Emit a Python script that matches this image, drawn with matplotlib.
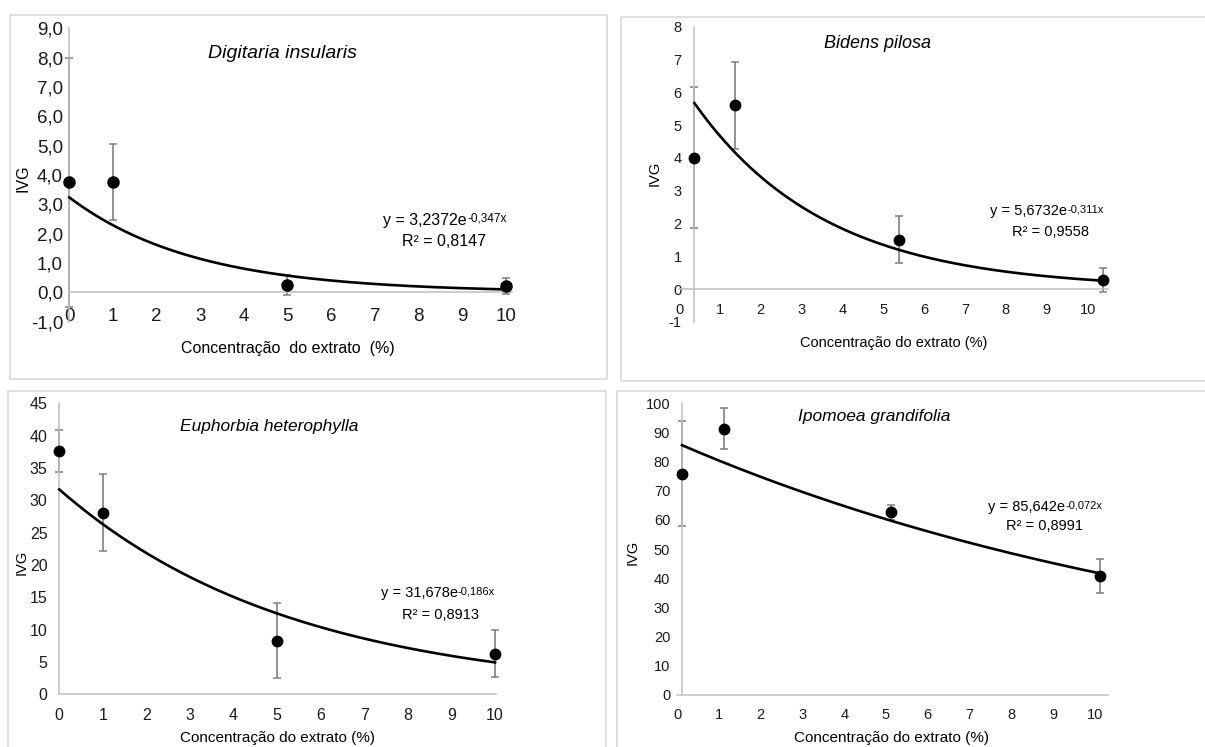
import numpy as np
import matplotlib
matplotlib.use("Agg")
import matplotlib.pyplot as plt
from matplotlib.patches import Rectangle
from matplotlib.text import Annotation

plt.rcParams['font.family'] = ['Liberation Sans', 'DejaVu Sans']

# concentrations of the extract (%)
conc = [0, 1, 5, 10]

# IVG means and error bars
digitaria_ivg = [3.75, 3.75, 0.25, 0.22]
digitaria_err = [4.25, 1.30, 0.35, 0.28]
bidens_ivg = [4.0, 5.6, 1.5, 0.27]
bidens_err = [2.15, 1.33, 0.72, 0.37]
euphorbia_ivg = [37.6, 28.1, 8.3, 6.3]
euphorbia_err = [3.3, 6.0, 5.8, 3.6]
ipomoea_ivg = [75.8, 91.3, 62.6, 40.8]
ipomoea_err = [18.0, 7.0, 2.5, 5.9]

# exponential trendlines: a, b, text of coefficient, text of exponent, r2
digitaria_fit = (3.2372, 0.347, "3,2372", "-0,347x", "0,8147")
bidens_fit = (5.6732, 0.311, "5,6732", "-0,311x", "0,9558")
euphorbia_fit = (31.678, 0.186, "31,678", "-0,186x", "0,8913")
ipomoea_fit = (85.642, 0.072, "85,642", "-0,072x", "0,8991")

W, H = 1205, 747
fig = plt.figure(figsize=(W / 100, H / 100), dpi=100)
fig.patch.set_facecolor('white')


def fx(x):
    return x / W


def fy(y):
    return 1 - y / H


# light grey chart borders
for (x0, y0, x1, y1) in [(10, 15, 607, 379), (621, 17, 1215, 381),
                         (8, 391, 606, 760), (617, 391, 1215, 760)]:
    fig.add_artist(Rectangle((fx(x0), fy(y1)), fx(x1 - x0), (y1 - y0) / H,
                             transform=fig.transFigure, fill=False,
                             ec='#d9d9d9', lw=1.2, zorder=0))


def panel(p, ivg, err, fit, title):
    # p holds the layout for one chart
    x0, unit, xmax = p['x0'], p['unit'], p['xmax']
    ytop, ybot = p['ytop'], p['ybot']
    ax = fig.add_axes([fx(x0), fy(ybot), fx(unit * xmax), (ybot - ytop) / H])
    ax.patch.set_visible(False)
    ax.set_xlim(0, xmax)
    ax.set_ylim(p['ymin'], p['ymax'])
    off = p['off']
    for s in ['top', 'right']:
        ax.spines[s].set_visible(False)
    ax.spines['left'].set_position(('data', off))
    ax.spines['bottom'].set_position(('data', 0))
    for s in ['left', 'bottom']:
        ax.spines[s].set_color('#bfbfbf')
        ax.spines[s].set_linewidth(1.1)
    ax.set_xticks(np.arange(11))
    ax.set_xticklabels([str(i) for i in range(11)])
    yt = np.arange(p['ymin'], p['ymax'] + 0.001, p['ystep'])
    ax.set_yticks(yt)
    ax.set_yticklabels([p['yfmt'].format(v).replace('.', ',') for v in yt])
    ax.tick_params(axis='x', length=0, pad=p['xpad'], labelsize=p['tick'],
                   colors='#1a1a1a')
    ax.tick_params(axis='y', length=0, pad=p['ypad'], labelsize=p['tick'],
                   colors='#1a1a1a')

    xs = np.array(conc) + off
    xfit = np.linspace(0, 10, 200)
    a, b, atxt, btxt, r2 = fit
    ax.plot(xfit + off, a * np.exp(-b * xfit), color='black', lw=1.9,
            zorder=3, clip_on=False)
    ax.errorbar(xs, ivg, yerr=err, fmt='none', ecolor='#7f7f7f',
                elinewidth=1.2, capsize=3, capthick=1.1, zorder=2,
                clip_on=False)
    ax.plot(xs, ivg, 'o', color='black', ms=p['ms'], zorder=4, clip_on=False)

    tx, ty = p['title']
    fig.text(fx(tx), fy(ty), title, style='italic', fontsize=p['tsize'],
             ha='center', va='center')
    ex, ey, rx, ey2 = p['eq']
    t = fig.text(fx(ex), fy(ey), "y = " + atxt + "e", fontsize=p['esize'],
                 ha='right', va='center')
    fig.add_artist(Annotation(btxt, xy=(1.0, 0.97), xycoords=t,
                              fontsize=p['ssize'], ha='left', va='top'))
    fig.text(fx(rx), fy(ey2), "R² = " + r2, fontsize=p['esize'],
             ha='center', va='center')
    lx, ly = p['xlab']
    fig.text(fx(lx), fy(ly), p['xtext'], fontsize=p['lsize'], ha='center',
             va='center')
    vx, vy = p['ylab']
    fig.text(fx(vx), fy(vy), "IVG", fontsize=p['vsize'], rotation=90,
             ha='center', va='center')
    return ax


p1 = dict(x0=69.3, unit=43.64, xmax=10.15, ytop=28.3, ybot=321.7, ymin=-1,
          ymax=9, ystep=1, yfmt='{:.1f}', off=0.0, xpad=11, ypad=4.5,
          tick=13.5, ms=8, title=(282, 53), tsize=14, eq=(467, 220, 444, 241),
          esize=11.5, ssize=8.5, xlab=(288, 348), lsize=11.5, ylab=(23, 178),
          vsize=11.5, xtext="Concentração  do extrato  (%)")
p2 = dict(x0=679, unit=40.86, xmax=10.5, ytop=26.7, ybot=321.8, ymin=-1,
          ymax=8, ystep=1, yfmt='{:.0f}', off=0.375, xpad=10, ypad=9,
          tick=10.5, ms=7.5, title=(877, 43), tsize=13,
          eq=(1067, 211, 1050, 232), esize=10.5, ssize=8, xlab=(894, 343),
          lsize=10.5, ylab=(655, 173), vsize=10.5,
          xtext="Concentração do extrato (%)")
p3 = dict(x0=59.3, unit=43.57, xmax=10.02, ytop=403.3, ybot=694.3, ymin=0,
          ymax=45, ystep=5, yfmt='{:.0f}', off=0.0, xpad=10, ypad=8.5,
          tick=11.5, ms=7.5, title=(269, 427), tsize=12.5,
          eq=(458, 593, 441, 615), esize=10.5, ssize=8, xlab=(277, 738),
          lsize=11, ylab=(22, 562), vsize=10.5,
          xtext="Concentração do extrato (%)")
p4 = dict(x0=677, unit=41.8, xmax=10.3, ytop=403.3, ybot=695, ymin=0,
          ymax=100, ystep=10, yfmt='{:.0f}', off=0.12, xpad=9.5, ypad=8.5,
          tick=10.5, ms=7.5, title=(874, 417), tsize=12.5,
          eq=(1065, 507, 1045, 526), esize=10.5, ssize=8, xlab=(892, 738),
          lsize=11, ylab=(633, 552), vsize=10.5,
          xtext="Concentração do extrato (%)")

panel(p1, digitaria_ivg, digitaria_err, digitaria_fit, "Digitaria insularis")
panel(p2, bidens_ivg, bidens_err, bidens_fit, "Bidens pilosa")
panel(p3, euphorbia_ivg, euphorbia_err, euphorbia_fit,
      "Euphorbia heterophylla")
panel(p4, ipomoea_ivg, ipomoea_err, ipomoea_fit, "Ipomoea grandifolia")

fig.savefig("out.png", dpi=100)
